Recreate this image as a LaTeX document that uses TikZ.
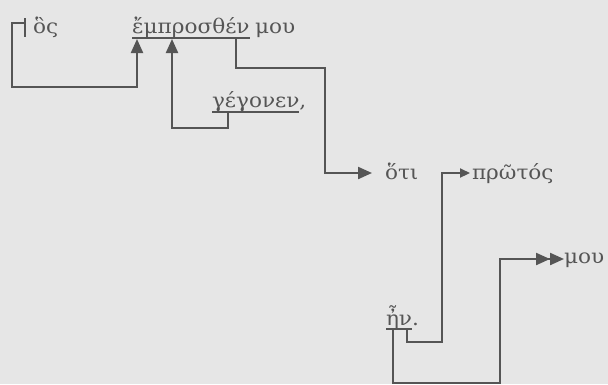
\documentclass[tikz,border=0pt]{standalone}
\usepackage{fontspec}
\setmainfont[FakeStretch=1.08]{DejaVu Serif}
\usetikzlibrary{arrows.meta,calc}
\definecolor{bg}{HTML}{E6E6E6}
\definecolor{ink}{HTML}{555555}
\begin{document}
\begin{tikzpicture}[x=1pt,y=-1pt,
  word/.style={anchor=base west,inner sep=0pt,outer sep=0pt,text=ink,font=\fontsize{20}{24}\selectfont},
  conn/.style={draw=ink,line width=2.2pt},
  uline/.style={draw=ink,line width=1.6pt},
  bigtip/.style={-{Triangle[length=14pt,width=12pt]}},
  smalltip/.style={-{Triangle[length=10pt,width=9pt]}},
  dbltip/.style={-{Triangle[length=14pt,width=12pt]Triangle[length=14pt,width=12pt]}}]
\fill[bg] (0,0) rectangle (608,384);
\useasboundingbox (0,0) rectangle (608,384);
% words
\node[word] (hos)  at (33,33)  {ὃς};
\node[word] (emp)  at (132,33) {ἔμπροσθέν};
\node[word] (mou1) at (255,33) {μου};
\node[word] (geg)  at (212,107) {γέγονεν};
\node[word,anchor=base west] (gegc) at (geg.base east) {,};
\node[word] (hoti) at (385,179) {ὅτι};
\node[word] (prot) at (472,179) {πρῶτός};
\node[word] (en)   at (386,325) {ἦν};
\node[word,anchor=base west] (enp) at (en.base east) {.};
\node[word] (mou2) at (564,263) {μου};
% underlines
\draw[uline] ($(emp.base west)+(0,5)$) -- ($(emp.base east)+(0,5)$);
\draw[uline] ($(geg.base west)+(0,5)$) -- ($(geg.base east)+(0,5)$);
\draw[uline] ($(en.base west)+(0,4)$) -- ($(en.base east)+(0,4)$);
% connection points
\coordinate (tk) at (25,23);
\coordinate (ea) at (137,39);
\coordinate (eb) at (172,39);
\coordinate (ec) at (236,38);
\coordinate (gu) at (228,112);
\coordinate (ha) at (372,173);
\coordinate (pa) at (470,173);
\coordinate (eda) at (407,329);
\coordinate (edb) at (393,329);
\coordinate (ma) at (564,259);
% tick
\draw[conn] (25,18) -- (25,37);
% connectors
\draw[conn,bigtip] (tk) -| (12,87) -| (ea);
\draw[conn,bigtip] (gu) |- (172,128) -- (eb);
\draw[conn,bigtip] (ec) |- (325,68) |- (ha);
\draw[conn,smalltip] (eda) |- (442,342) |- (pa);
\draw[conn,dbltip] (edb) |- (500,383) |- (ma);
\end{tikzpicture}
\end{document}
